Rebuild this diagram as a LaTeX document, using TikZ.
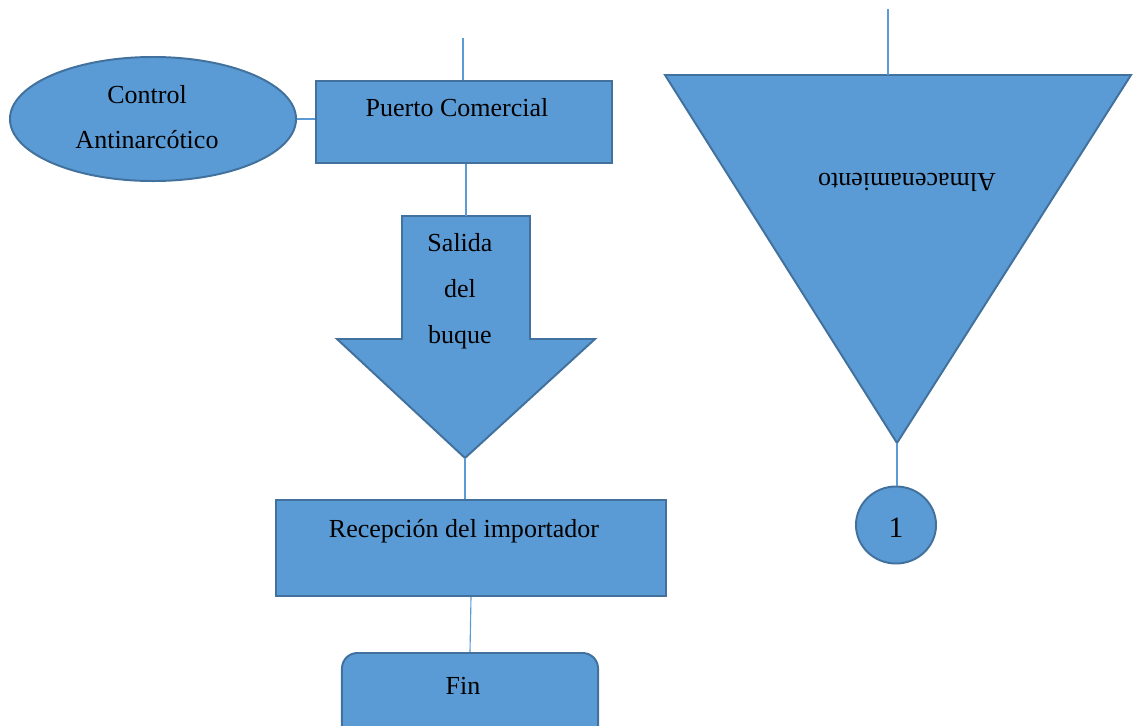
\documentclass[tikz,border=0pt]{standalone}
\usepackage{fontspec}
\setmainfont{Liberation Serif}
\usetikzlibrary{shapes.geometric}
\definecolor{fillblue}{HTML}{5B9BD5}
\definecolor{edgeblue}{HTML}{41719C}
\begin{document}
\begin{tikzpicture}[x=0.025cm,y=-0.025cm,
  shp/.style={fill=fillblue,draw=edgeblue,line width=1.4pt},
  boxnode/.style={shp,rectangle,inner sep=0pt},
  conn/.style={draw=fillblue,line width=0.8pt},
  txt/.style={font=\fontsize{18.5}{32}\selectfont,text=black,inner sep=0pt,align=center}]
\useasboundingbox (0,0) rectangle (1133,725);
% shapes
\node[shp,ellipse,minimum width=7.15cm,minimum height=3.1cm,inner sep=0pt] (ell) at (153,119) {};
\node[txt] (ellt) at (147,117) {Control\\Antinarcótico};
\node[boxnode,minimum width=7.4cm,minimum height=2.05cm] (puerto) at (464,122) {};
\node[txt] (puertot) at (457,108) {Puerto Comercial};
% arrow
\coordinate (atop) at (466,216);
\coordinate (atip) at (465,458);
\path[shp] (402,216) -- (530,216) -- (530,339) -- (595,339) -- (atip) -- (337,339) -- (402,339) -- cycle;
\node[txt,font=\fontsize{18.5}{32.6}\selectfont] (arrt) at (460,291) {Salida\\del\\buque};
\node[boxnode,minimum width=9.75cm,minimum height=2.4cm] (recep) at (471,548) {};
\node[txt] (recept) at (464,531) {Recepción del importador};
\node[shp,rectangle,rounded corners=11pt,minimum width=6.4cm,minimum height=2.3cm,inner sep=0pt] (fin) at (470,699) {};
\node[txt] (fint) at (463,686) {Fin};
% triangle
\coordinate (ttop) at (888,75);
\coordinate (ttip) at (897,443);
\path[shp] (665,75) -- (1131,75) -- (ttip) -- cycle;
\node[txt,rotate=180] (almt) at (907,182) {Almacenamiento};
\node[shp,ellipse,minimum width=2cm,minimum height=1.925cm,inner sep=0pt] (uno) at (896,525) {};
\node[txt,font=\fontsize{21}{25}\selectfont] (unot) at (896,528) {1};
% connectors
\coordinate (pin) at (463,38);
\coordinate (tin) at (888,9);
\draw[conn] (pin) -- (pin |- puerto.north);
\draw[conn] (ell.east) -- (ell.east -| puerto.west);
\draw[conn] (puerto.south -| atop) -- (atop);
\draw[conn] (atip) -- (atip |- recep.north);
\draw[conn] (recep.south) -- (fin.north);
\draw[conn] (tin) -- (ttop);
\draw[conn] (ttip) -- (ttip |- uno.north);
\end{tikzpicture}
\end{document}
